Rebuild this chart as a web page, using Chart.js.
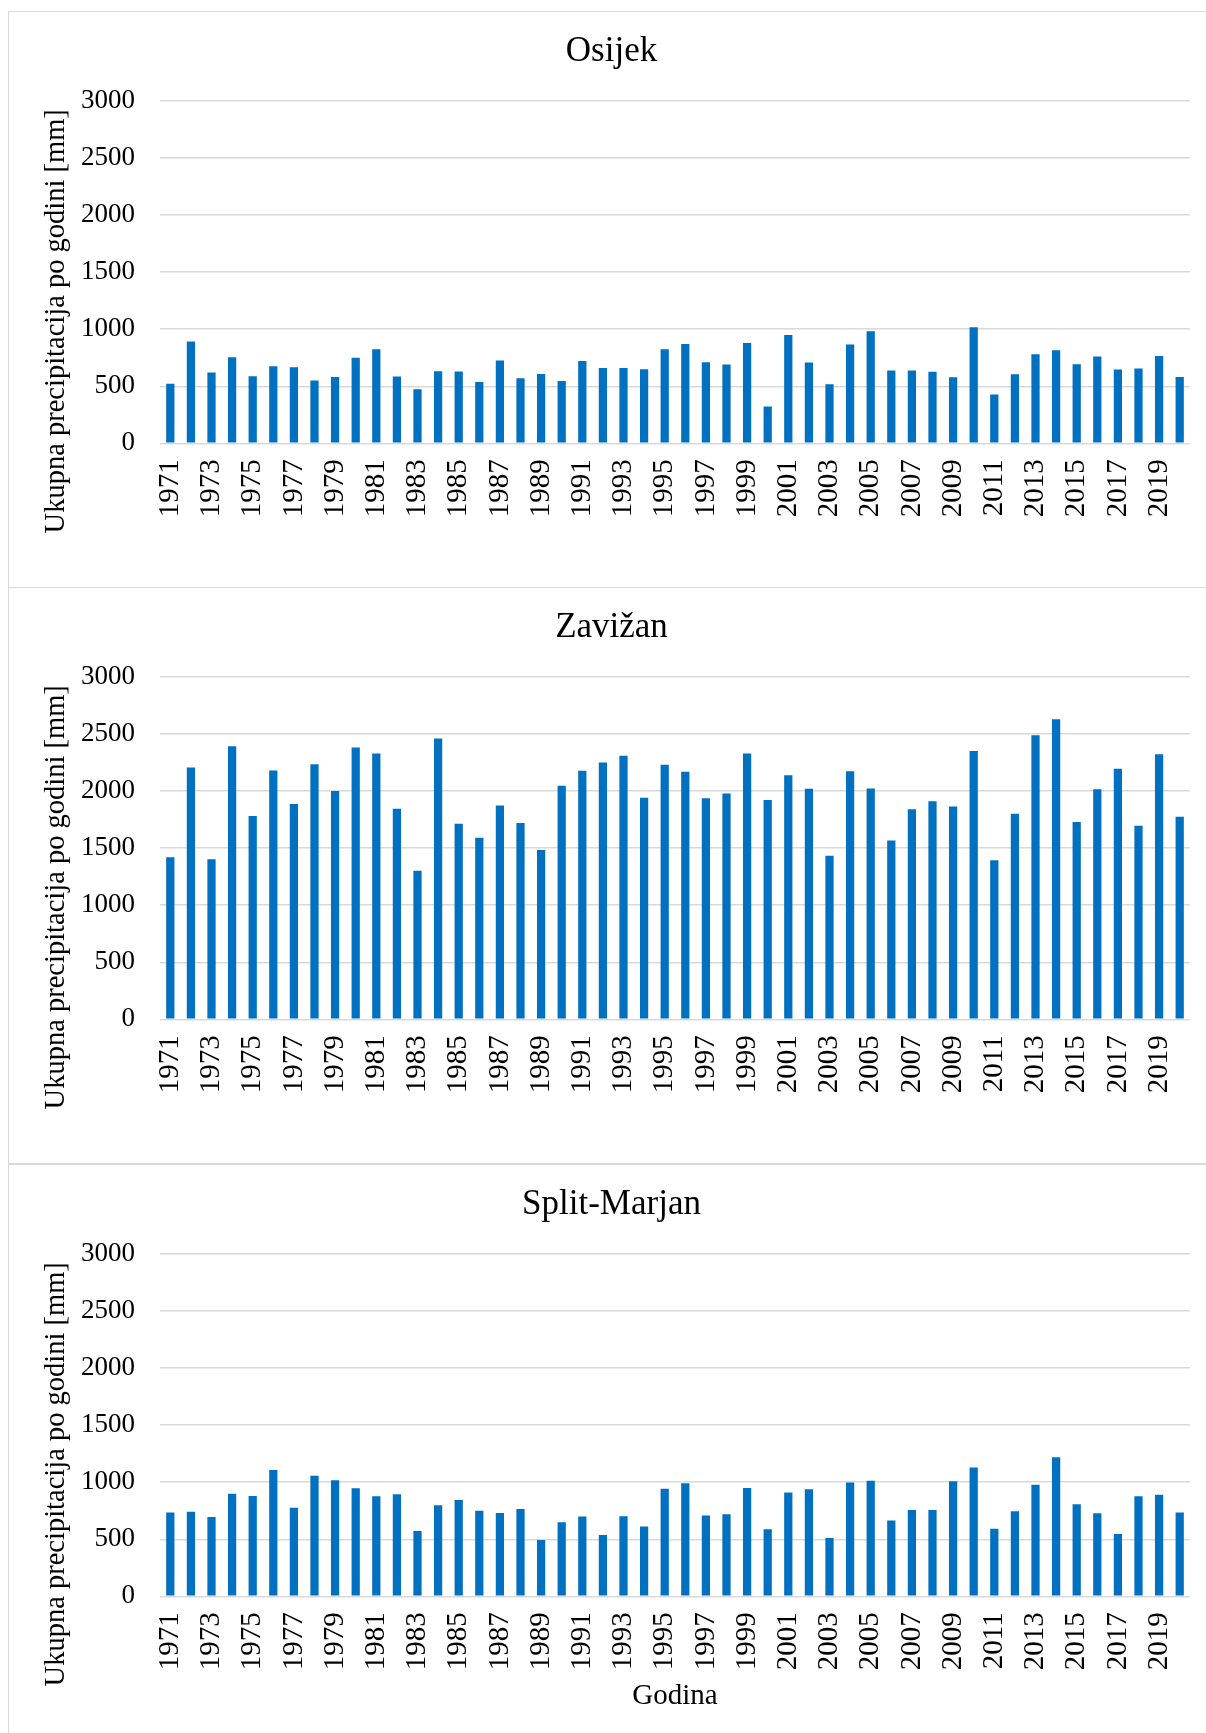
<!DOCTYPE html>
<html>
<head>
<meta charset="utf-8">
<script src="https://cdn.jsdelivr.net/npm/chart.js@4.4.1/dist/chart.umd.min.js"></script>
<style>
  html, body { margin: 0; padding: 0; background: #fff; overflow: hidden; width: 1206px; height: 1733px; }
  .panel { position: absolute; left: 8px; width: 1220px; height: 575px; border: 1px solid #d9d9d9; background: #fff; }
  .panel canvas { position: absolute; left: 0; top: 0; display: block; }
</style>
</head>
<body>
<div class="panel" style="top:11px"><canvas id="c1" width="1197" height="575"></canvas></div>
<div class="panel" style="top:587px"><canvas id="c2" width="1197" height="575"></canvas></div>
<div class="panel" style="top:1164px"><canvas id="c3" width="1197" height="575"></canvas></div>
<script>
// ---------- data ----------
const years = ['1971','1972','1973','1974','1975','1976','1977','1978','1979','1980',
  '1981','1982','1983','1984','1985','1986','1987','1988','1989','1990',
  '1991','1992','1993','1994','1995','1996','1997','1998','1999','2000',
  '2001','2002','2003','2004','2005','2006','2007','2008','2009','2010',
  '2011','2012','2013','2014','2015','2016','2017','2018','2019','2020'];

const xTickLabels = ['1971','1973','1975','1977','1979','1981','1983','1985','1987','1989',
  '1991','1993','1995','1997','1999','2001','2003','2005','2007','2009',
  '2011','2013','2015','2017','2019'];

const yTickValues = [0, 500, 1000, 1500, 2000, 2500, 3000];

const osijek = [523, 892, 620, 754, 588, 675, 667, 550, 582, 749,
  825, 585, 474, 632, 629, 538, 725, 570, 608, 547,
  722, 661, 661, 649, 825, 871, 711, 690, 880, 322,
  950, 708, 518, 866, 982, 637, 637, 626, 579, 1018,
  427, 605, 781, 816, 693, 760, 646, 655, 766, 582];

const zavizan = [1420, 2207, 1402, 2393, 1781, 2180, 1886, 2236, 2000, 2382,
  2329, 1845, 1303, 2460, 1714, 1592, 1874, 1720, 1484, 2046,
  2178, 2250, 2309, 1941, 2230, 2169, 1938, 1979, 2329, 1921,
  2140, 2020, 1434, 2175, 2023, 1568, 1842, 1912, 1866, 2352,
  1393, 1801, 2489, 2629, 1729, 2017, 2195, 1697, 2323, 1775];

const splitMarjan = [734, 740, 696, 898, 880, 1108, 775, 1056, 1018, 947,
  877, 895, 573, 798, 845, 749, 731, 766, 494, 649,
  699, 538, 702, 611, 942, 991, 708, 719, 950, 588,
  909, 939, 512, 997, 1012, 664, 757, 757, 1009, 1129,
  591, 746, 977, 1219, 807, 728, 547, 877, 889, 734];

const stations = ['Osijek', 'Zavižan', 'Split-Marjan'];
const yAxisTitle = 'Ukupna precipitacija po godini [mm]';
const xAxisTitle = 'Godina';

// ---------- styling ----------
const FONT = "'Times New Roman', 'Liberation Serif', serif";
const BAR_COLOR = '#0070C0';
const GRID_COLOR = '#d9d9d9';
Chart.defaults.color = '#000';
Chart.defaults.font.family = FONT;

const yTitlePlugin = {
  id: 'yTitlePlugin',
  afterDraw(chart) {
    const ctx = chart.ctx;
    ctx.save();
    ctx.font = '28.5px ' + FONT;
    ctx.fillStyle = '#000';
    ctx.textAlign = 'center';
    ctx.textBaseline = 'alphabetic';
    ctx.translate(55, chart.chartArea.bottom - 122);
    ctx.rotate(-Math.PI / 2);
    ctx.fillText(yAxisTitle, 0, 0);
    ctx.restore();
  }
};

function makeChart(id, title, values, showXTitle) {
  return new Chart(document.getElementById(id), {
    type: 'bar',
    data: {
      labels: years,
      datasets: [{
        data: values,
        backgroundColor: BAR_COLOR,
        borderWidth: 0,
        barPercentage: 0.4,
        categoryPercentage: 1.0
      }]
    },
    options: {
      responsive: false,
      animation: false,
      devicePixelRatio: 1,
      layout: { padding: { left: 24, right: 16, top: 0, bottom: 0 } },
      plugins: {
        legend: { display: false },
        tooltip: { enabled: false },
        title: {
          display: true,
          text: title,
          color: '#000',
          font: { family: FONT, size: 35, weight: 'normal', lineHeight: 1.2 },
          padding: { top: 19, bottom: 28 }
        }
      },
      scales: {
        x: {
          grid: { display: false, drawTicks: false },
          border: { display: false },
          ticks: {
            autoSkip: false,
            maxRotation: 90,
            minRotation: 90,
            padding: 16,
            color: '#000',
            font: { family: FONT, size: 29 },
            callback: function (value, index) {
              const lab = years[index];
              return xTickLabels.includes(lab) ? lab : '';
            }
          },
          title: {
            display: showXTitle,
            text: xAxisTitle,
            color: '#000',
            font: { family: FONT, size: 29, weight: 'normal', lineHeight: 1.2 },
            padding: { top: 0, bottom: 26 }
          },
          afterFit: function (scale) {
            scale.height = 143.7;
            scale.paddingLeft = 0;
            scale.paddingRight = 0;
          }
        },
        y: {
          min: 0,
          max: 3000,
          grid: { color: GRID_COLOR, lineWidth: 1.5, drawTicks: false },
          border: { display: false },
          afterBuildTicks: function (scale) {
            scale.ticks = yTickValues.map(v => ({ value: v }));
          },
          ticks: {
            padding: 25,
            color: '#000',
            font: { family: FONT, size: 27 },
            callback: function (value) { return String(value); }
          },
          afterFit: function (scale) {
            scale.width = 127;
            scale.paddingTop = 0;
            scale.paddingBottom = 0;
          }
        }
      }
    },
    plugins: [yTitlePlugin]
  });
}

makeChart('c1', stations[0], osijek, false);
makeChart('c2', stations[1], zavizan, false);
makeChart('c3', stations[2], splitMarjan, true);
</script>
</body>
</html>
